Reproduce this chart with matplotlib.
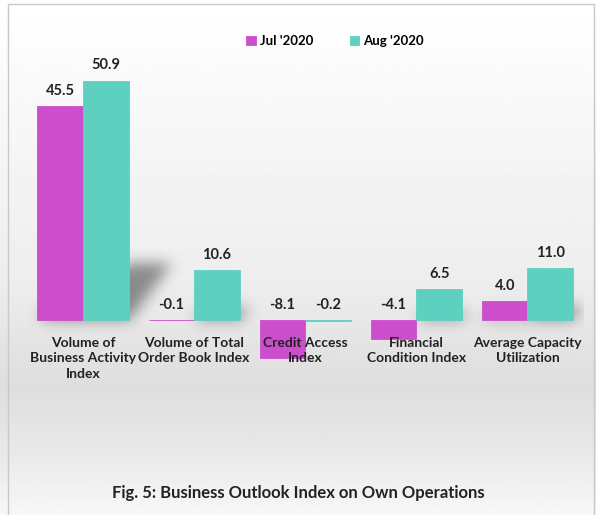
import numpy as np
import matplotlib
matplotlib.use("Agg")
from matplotlib import pyplot as plt
from matplotlib.patches import Rectangle
from matplotlib.path import Path

plt.rcParams['font.family'] = ['Lato', 'DejaVu Sans']

categories = ['Volume of\nBusiness Activity\nIndex', 'Volume of Total\nOrder Book Index',
              'Credit Access\nIndex', 'Financial\nCondition Index',
              'Average Capacity\nUtilization']
jul = [45.5, -0.1, -8.1, -4.1, 4.0]
aug = [50.9, 10.6, -0.2, 6.5, 11.0]
series_names = ["Jul '2020", "Aug '2020"]
title = 'Fig. 5: Business Outlook Index on Own Operations'

c_jul = '#CC4ECC'
c_aug = '#5ED0C0'

W, H = 596, 515
fig = plt.figure(figsize=(W / 100, H / 100), dpi=100)

# background gradient (white top -> grey middle -> lighter bottom)
bg = fig.add_axes([0, 0, 1, 1], zorder=-10)
yy = np.linspace(0, 1, 300)
shade = np.interp(yy, [0, 0.55, 0.75, 0.9, 1.0], [1.0, 0.93, 0.87, 0.92, 0.97])
bg.imshow(np.tile(shade[:, None], (1, 10)), cmap='gray', vmin=0, vmax=1,
          aspect='auto', extent=[0, 1, 0, 1], origin='upper')
bg.set_xlim(0, 1)
bg.set_ylim(0, 1)
bg.axis('off')
bg.add_patch(Rectangle((8 / W, -0.01), (594 - 8) / W, 1 - 4 / H + 0.01,
                       fill=False, ec='#c8c8c8', lw=1))

# main axes: zero line at y=320px, 4.70 px per unit
px_per = 4.70
top_px, bot_px = 30, 440
ax_l, ax_r = 27.5, 583
ax = fig.add_axes([ax_l / W, (H - bot_px) / H, (ax_r - ax_l) / W, (bot_px - top_px) / H])
y0, y1 = -(bot_px - 320) / px_per, (320 - top_px) / px_per
ax.set_ylim(y0, y1)
ax.set_xlim(-0.5, len(categories) - 0.5)
ax.patch.set_alpha(0)
ax.axis('off')

x = np.arange(len(categories))
bw = 0.41

# soft cast shadows, rasterised and blurred
nx, ny = int(ax_r - ax_l), bot_px - top_px
gx = np.linspace(-0.5, len(categories) - 0.5, nx)
gy = np.linspace(y1, y0, ny)
GX, GY = np.meshgrid(gx, gy)
pts = np.column_stack([GX.ravel(), GY.ravel()])
mask = np.zeros(nx * ny)
cat_px = (ax_r - ax_l) / len(categories)
for i in range(len(categories)):
    for off, v in ((-bw / 2, jul[i]), (bw / 2, aug[i])):
        if v <= 0:
            continue
        xl, xr = x[i] + off - bw / 2, x[i] + off + bw / 2
        hp = v * px_per
        sx = 0.18 * hp / cat_px
        sy = 0.24 * v
        p = Path([(xl, 0), (xr, 0), (xr + sx, sy), (xl + sx, sy)])
        mask = np.maximum(mask, p.contains_points(pts).astype(float))
mask = mask.reshape(ny, nx)
sig = 7
k = np.exp(-0.5 * (np.arange(-3 * sig, 3 * sig + 1) / sig) ** 2)
k /= k.sum()
mask = np.apply_along_axis(lambda r: np.convolve(r, k, mode='same'), 1, mask)
mask = np.apply_along_axis(lambda c: np.convolve(c, k, mode='same'), 0, mask)
rgba = np.zeros((ny, nx, 4))
rgba[..., 3] = mask * 0.42
ax.imshow(rgba, extent=[-0.5, len(categories) - 0.5, y0, y1], aspect='auto',
          zorder=1, interpolation='bilinear')
ax.set_xlim(-0.5, len(categories) - 0.5)
ax.set_ylim(y0, y1)

b1 = ax.bar(x - bw / 2, jul, bw, color=c_jul, ec=c_jul, lw=0.6,
            label=series_names[0], zorder=3)
b2 = ax.bar(x + bw / 2, aug, bw, color=c_aug, ec=c_aug, lw=0.6,
            label=series_names[1], zorder=3)

for bars, vals in ((b1, jul), (b2, aug)):
    for r, v in zip(bars, vals):
        ax.annotate(f'{v:.1f}', (r.get_x() + r.get_width() / 2, max(v, 0)),
                    xytext=(0, 6), textcoords='offset points', ha='center', va='bottom',
                    fontsize=10.5, fontweight='bold', color='#222222', zorder=5)

for i, lab in enumerate(categories):
    ax.annotate(lab, (x[i], 0), xytext=(0, -12), textcoords='offset points',
                ha='center', va='top', fontsize=10, fontweight='bold',
                color='#222222', linespacing=1.35, zorder=6)

fig.legend(handles=[b1, b2], labels=series_names, loc='center',
           bbox_to_anchor=(335 / W, 1 - 41 / H), ncol=2, frameon=False,
           prop={'weight': 'bold', 'size': 9.5}, handlelength=0.7, handleheight=0.7,
           columnspacing=2.8, handletextpad=0.3)

fig.text(298 / W, 1 - 493 / H, title, ha='center', va='center',
         fontsize=12, fontweight='bold', color='#222222')

fig.savefig('out.png', dpi=100)
